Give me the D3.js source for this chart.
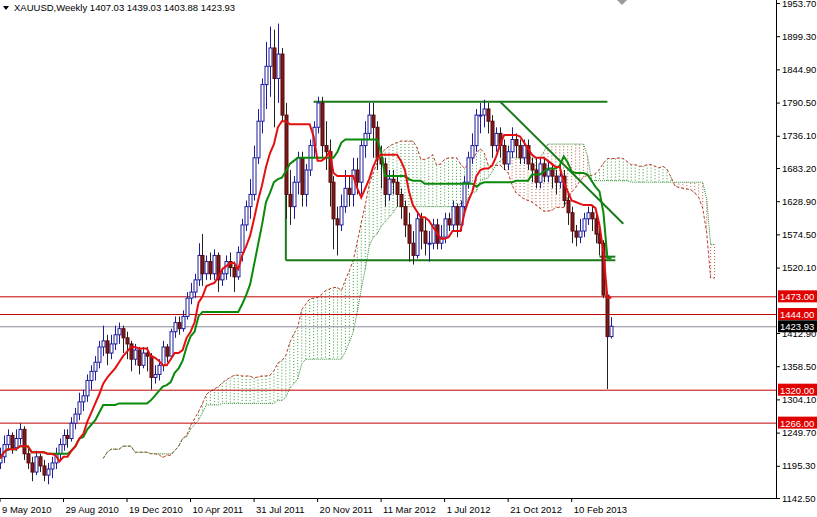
<!DOCTYPE html>
<html><head><meta charset="utf-8">
<script src="https://cdn.jsdelivr.net/npm/d3@7"></script>
<style>body{margin:0;background:#fff}svg{display:block}text{font-family:"Liberation Sans",Arial,sans-serif;font-size:9.5px}</style>
</head><body><svg id="c" width="817" height="517"></svg>
<script>
const opens=[1200,1210,1230,1245,1225,1240,1255,1215,1200,1185,1210,1195,1180,
1190,1200,1215,1230,1245,1240,1265,1280,
1300,1310,1335,1350,1365,1390,1400,1380,1395,1410,
1420,1405,1395,1370,1385,1360,1380,1375,1340,1345,
1360,1390,1375,1415,1430,1420,1440,1470,1480,1500,
1540,1510,1530,1510,1540,1500,1510,1530,1520,1505,
1545,1590,1620,1640,1700,1760,1820,1850,1880,1830,
1870,1770,1640,1620,1660,1700,1640,1680,1720,1750,
1790,1720,1710,1660,1600,1590,1620,1650,1640,1680,
1660,1720,1740,1770,1750,1700,1690,1640,1665,1660,
1640,1620,1590,1560,1540,1600,1580,1560,1560,1590,
1560,1570,1600,1590,1620,1590,1620,1660,1700,1720,
1770,1770,1780,1760,1720,1740,1720,1690,1710,1730,
1720,1700,1720,1690,1680,1660,1690,1670,1680,1670,
1660,1670,1630,1610,1580,1570,1580,1600,1610,1600,
1575,1560,1475,1407.03];
const highs=[1225,1245,1255,1250,1255,1265,1260,1225,1210,1220,1215,1205,1200,
1210,1225,1240,1255,1255,1275,1290,1315,
1320,1345,1360,1375,1400,1425,1410,1410,1425,1430,
1425,1415,1400,1395,1390,1390,1390,1380,1360,1370,
1400,1395,1420,1440,1440,1450,1480,1495,1510,1560,
1575,1540,1545,1550,1545,1520,1540,1545,1530,1555,
1600,1630,1665,1720,1780,1830,1890,1915,1910,1920,
1880,1790,1680,1670,1710,1710,1690,1730,1760,1800,
1800,1760,1730,1670,1620,1640,1680,1670,1700,1700,
1730,1760,1790,1790,1760,1720,1700,1680,1680,1670,
1650,1630,1610,1580,1610,1610,1600,1580,1600,1600,
1590,1610,1610,1630,1625,1630,1670,1710,1740,1780,
1790,1795,1790,1770,1750,1750,1730,1720,1750,1740,
1730,1730,1730,1700,1700,1700,1700,1695,1690,1680,
1690,1680,1640,1620,1590,1600,1610,1620,1620,1610,
1590,1565,1480,1439.03];
const lows=[1190,1200,1220,1215,1220,1230,1205,1190,1170,1180,1185,1170,1165,
1175,1190,1205,1220,1225,1235,1255,1270,
1285,1300,1320,1335,1355,1375,1360,1370,1385,1395,
1380,1370,1350,1360,1345,1355,1350,1320,1330,1335,
1350,1365,1370,1405,1410,1415,1435,1460,1470,1490,
1490,1500,1500,1500,1480,1490,1500,1505,1480,1500,
1530,1580,1600,1630,1690,1740,1780,1800,1750,1790,
1760,1600,1590,1600,1640,1620,1620,1670,1700,1740,
1700,1680,1620,1550,1540,1580,1610,1620,1620,1640,
1640,1700,1730,1700,1680,1650,1620,1630,1640,1620,
1600,1570,1530,1525,1535,1550,1540,1530,1550,1550,
1550,1560,1580,1580,1570,1580,1610,1650,1690,1710,
1740,1750,1740,1700,1710,1700,1680,1680,1700,1700,
1690,1690,1680,1660,1650,1650,1660,1660,1650,1640,
1650,1620,1590,1560,1555,1560,1570,1590,1580,1560,
1540,1470,1321,1403.88];
const closes=[1210,1230,1245,1225,1240,1255,1215,1200,1185,1210,1195,1180,1190,
1200,1215,1230,1245,1240,1265,1280,1300,
1310,1335,1350,1365,1390,1400,1380,1395,1410,1420,
1405,1395,1370,1385,1360,1380,1375,1340,1345,1360,
1390,1375,1415,1430,1420,1440,1470,1480,1500,1540,
1510,1530,1510,1540,1500,1510,1530,1520,1505,1545,
1590,1620,1640,1700,1760,1820,1850,1880,1830,1870,
1770,1640,1620,1660,1700,1640,1680,1720,1750,1790,
1720,1710,1660,1600,1590,1620,1650,1640,1680,1660,
1720,1740,1770,1750,1700,1690,1640,1665,1660,1640,
1620,1590,1560,1540,1600,1580,1560,1560,1590,1560,
1570,1600,1590,1620,1590,1620,1660,1700,1720,1770,
1770,1780,1760,1720,1740,1720,1690,1710,1730,1720,
1700,1720,1690,1680,1660,1690,1670,1680,1670,1660,
1670,1630,1610,1580,1570,1580,1600,1610,1600,1575,
1560,1475,1407.03,1423.93];
const dateLabels=["9 May 2010","29 Aug 2010","19 Dec 2010","10 Apr 2011","31 Jul 2011","20 Nov 2011","11 Mar 2012","1 Jul 2012","21 Oct 2012","10 Feb 2013"];
const priceTicks=[1953.70,1899.30,1844.90,1790.50,1736.10,1683.20,1628.90,1574.50,1520.10,1412.90,1358.50,1304.10,1249.70,1195.30,1142.50];
const levels=[1473,1444,1320,1266];
const lastPrice=1423.93;

const svg=d3.select("#c");
const W=776,B=498;
const x=d3.scaleLinear().domain([0,1]).range([0,3.97]);
const y=d3.scaleLinear().domain([1142.5,1953.7]).range([B,3]);
const n=closes.length;

function mid(i,p){const s=Math.max(0,i-p+1);return (d3.max(highs.slice(s,i+1))+d3.min(lows.slice(s,i+1)))/2;}
const tenkan=[],kijun=[],spanA=[],spanB=[];
for(let i=0;i<n;i++){tenkan.push([i,mid(i,9)]);kijun.push([i,mid(i,26)]);
 spanA.push([i+26,(mid(i,9)+mid(i,26))/2]);spanB.push([i+26,mid(i,52)]);}
const g=svg.append("g");
for(let k=0;k<spanA.length;k++){const a=spanA[k][1],b=spanB[k][1];
 g.append("line").attr("x1",x(spanA[k][0])).attr("x2",x(spanA[k][0])).attr("y1",y(a)).attr("y2",y(b))
  .attr("stroke",a>=b?"#3c9a3c":"#b0603c").attr("stroke-width",1).attr("stroke-dasharray","1,2");}
const line=d3.line().x(d=>x(d[0])).y(d=>y(d[1]));
g.append("path").attr("d",line(spanA)).attr("fill","none").attr("stroke","#c0392b").attr("stroke-dasharray","3,2");
g.append("path").attr("d",line(spanB)).attr("fill","none").attr("stroke","#2e8b2e").attr("stroke-dasharray","1,1");

levels.forEach(v=>g.append("line").attr("x1",0).attr("x2",W).attr("y1",y(v)+.5).attr("y2",y(v)+.5).attr("stroke","#c00000"));
g.append("line").attr("x1",0).attr("x2",W).attr("y1",y(lastPrice)+.5).attr("y2",y(lastPrice)+.5).attr("stroke","#8a8a9a");

const green="#1a7a1a";
[[[79,1792],[153,1792]],[[72,1532],[155,1532]],[[72,1532],[72,1685]],[[126,1792],[157,1592]],[[151,1538],[155,1538]]]
.forEach(s=>g.append("path").attr("d",line(s)).attr("fill","none").attr("stroke",green).attr("stroke-width",2));

for(let i=0;i<n;i++){const up=closes[i]>=opens[i],cx=Math.round(x(i))+.5,col=up?"#1c1c9c":"#222";
 g.append("line").attr("x1",cx).attr("x2",cx).attr("y1",y(highs[i])).attr("y2",y(lows[i])).attr("stroke",col);
 const t=y(Math.max(opens[i],closes[i])),bb=y(Math.min(opens[i],closes[i]));
 g.append("rect").attr("x",cx-1.5).attr("y",t).attr("width",3).attr("height",Math.max(1,bb-t))
  .attr("fill",up?"#fff":"#7a1a1a").attr("stroke",up?"#1c1c9c":"#5a0a0a").attr("stroke-width",1);}
g.append("path").attr("d",line(kijun)).attr("fill","none").attr("stroke","#0a8a0a").attr("stroke-width",2);
g.append("path").attr("d",line(tenkan)).attr("fill","none").attr("stroke","#e41010").attr("stroke-width",2);

svg.append("line").attr("x1",W+.5).attr("x2",W+.5).attr("y1",0).attr("y2",B+1).attr("stroke","#000");
svg.append("line").attr("x1",0).attr("x2",W+1).attr("y1",B+.5).attr("y2",B+.5).attr("stroke","#000");
const ya=svg.append("g").attr("transform",`translate(${W},0)`).call(d3.axisRight(y).tickValues(priceTicks).tickSize(4).tickFormat(d3.format(".2f")));
ya.select(".domain").remove();ya.selectAll("text").attr("x",6).attr("fill","#000").style("font-size","9.5px").style("font-family","Liberation Sans");
dateLabels.forEach((d,k)=>{const xx=x(k*16);
 svg.append("line").attr("x1",xx).attr("x2",xx).attr("y1",B).attr("y2",B+4).attr("stroke","#000");
 svg.append("text").attr("x",xx+2).attr("y",513).text(d);});
levels.forEach(v=>{svg.append("rect").attr("x",W+2).attr("y",y(v)-6).attr("width",39).attr("height",12).attr("fill","#e00000");
 svg.append("text").attr("x",W+4).attr("y",y(v)+4).attr("fill","#fff").text(v.toFixed(2));});
svg.append("rect").attr("x",W+2).attr("y",y(lastPrice)-6).attr("width",39).attr("height",12).attr("fill","#000");
svg.append("text").attr("x",W+4).attr("y",y(lastPrice)+4).attr("fill","#fff").text(lastPrice.toFixed(2));
svg.append("path").attr("d","M3,6 L9,6 L6,10 Z").attr("fill","#000");
svg.append("text").attr("x",14).attr("y",11).text("XAUUSD,Weekly  1407.03 1439.03 1403.88 1423.93");
svg.append("path").attr("d","M617,0 L627,0 L622,5 Z").attr("fill","#999");
</script></body></html>
